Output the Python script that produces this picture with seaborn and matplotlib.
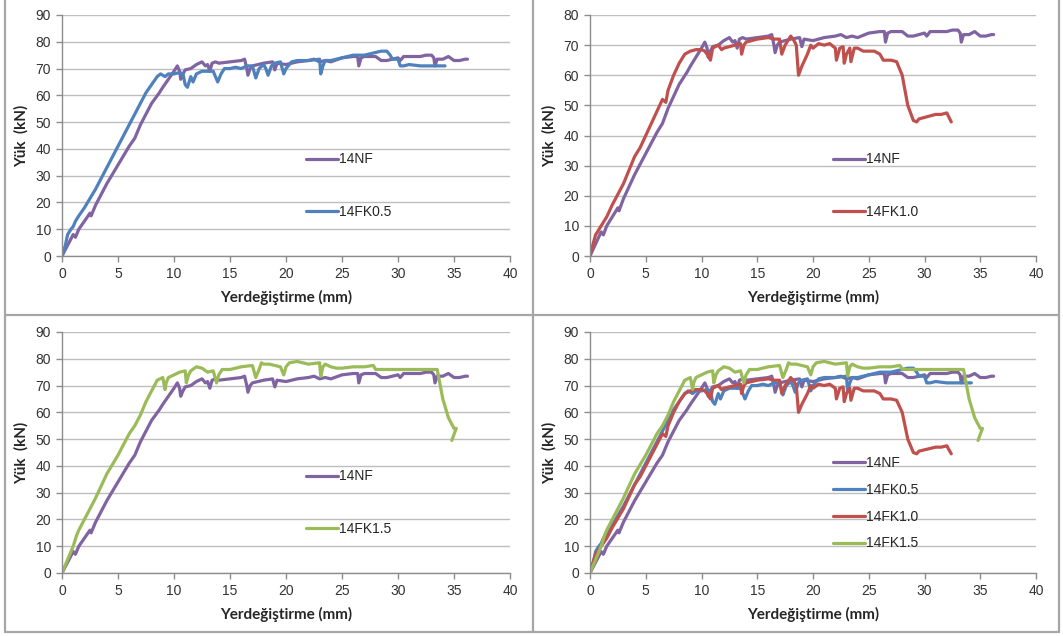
import numpy as np
import pandas as pd
import seaborn as sns
import matplotlib.pyplot as plt
from matplotlib.lines import Line2D

# load-displacement curves (x: mm, y: kN)
nf_x = [0, 0.5, 1.0, 1.2, 1.5, 2.5, 2.6, 3.0, 4.0, 5.0, 6.0, 6.5, 7.0, 8.0, 8.7, 9.0, 9.5, 10.0,
        10.3, 10.5, 10.6, 10.8, 11.0, 11.5, 12.0, 12.5, 12.8, 13.0, 13.2, 13.4, 13.7, 14.0, 15.0,
        16.0, 16.3, 16.5, 16.6, 16.8, 17.0, 18.0, 18.8, 19.0, 19.2, 20.0, 21.0, 22.0, 22.5, 23.0,
        23.5, 24.0, 25.0, 26.0, 26.4, 26.5, 26.7, 27.0, 28.0, 28.5, 29.0, 30.0, 30.2, 30.5, 31.0,
        32.0, 32.5, 33.0, 33.2, 33.3, 33.5, 34.0, 34.5, 35.0, 35.5, 36.0, 36.2]
nf_y = [0, 4, 8, 7, 10, 16, 15, 19, 27, 34, 41, 44, 49, 57, 61, 63, 66, 69,
        71, 69, 66, 68, 69.5, 70, 71.5, 72.5, 71, 71.5, 69, 72, 72.5, 72, 72.5,
        73, 73.5, 70, 67.5, 70, 71, 72, 72.5, 69.5, 72, 71.5, 72.5, 73, 73.5, 72.5,
        73, 72.5, 74, 74.5, 74.5, 71, 74, 74.5, 74.5, 73, 73, 74, 73, 74.5, 74.5,
        74.5, 75, 75, 74, 71, 73.5, 73.5, 74.5, 73, 73, 73.5, 73.5]

fk05_x = [0, 0.3, 0.5, 0.8, 1.0, 1.2, 1.5, 2.0, 3.0, 4.0, 5.0, 6.0, 6.5, 7.0, 7.5, 8.0, 8.5, 8.8,
          9.0, 9.2, 9.5, 10.0, 10.5, 10.8, 11.0, 11.2, 11.5, 11.7, 12.0, 12.5, 13.0, 13.5, 13.8,
          13.9, 14.2, 14.5, 15.0, 15.5, 16.0, 16.5, 17.0, 17.2, 17.3, 17.6, 18.0, 18.2, 18.4, 18.7,
          19.0, 19.5, 19.8, 20.0, 20.5, 21.0, 22.0, 23.0, 23.1, 23.3, 23.5, 24.0, 25.0, 26.0, 27.0,
          27.5, 28.0, 28.5, 29.0, 29.3, 29.5, 30.0, 30.2, 30.5, 31.0, 32.0, 33.0, 34.0, 34.2]
fk05_y = [0, 4, 8, 10, 11, 13, 15, 18, 25, 33, 41, 49, 53, 57, 61, 64, 67, 68,
          67.5, 67, 68, 68, 68.5, 68, 64, 63, 67, 65, 68, 69, 69, 69, 66,
          65, 68, 70, 70, 70.5, 70, 71, 71, 68, 66.5, 70, 71.5, 70, 67.5, 71,
          72, 72.5, 68, 70, 72.5, 73, 73, 73.5, 68, 71, 73, 73, 74, 75, 75,
          75.5, 76, 76.5, 76.5, 75, 73.5, 73.5, 71, 71, 71.5, 71, 71, 71, 71]

fk10_x = [0, 0.2, 0.5, 1.0, 1.5, 2.0, 3.0, 4.0, 4.5, 5.0, 5.5, 6.0, 6.5, 6.8, 7.0, 7.5, 8.0, 8.5,
          9.0, 9.5, 10.0, 10.3, 10.5, 10.8, 11.0, 11.5, 11.8, 12.0, 12.5, 13.0, 13.5, 13.6, 13.8,
          14.0, 15.0, 16.0, 16.5, 17.0, 17.2, 17.5, 18.0, 18.3, 18.5, 18.7, 19.0, 19.5, 19.8, 20.0,
          20.5, 21.0, 21.5, 22.0, 22.1, 22.4, 22.7, 22.8, 23.0, 23.3, 23.4, 23.7, 24.0, 24.5, 25.0,
          25.5, 26.0, 26.3, 27.0, 27.5, 28.0, 28.5, 29.0, 29.3, 29.5, 30.0, 31.0, 31.5, 32.0, 32.2,
          32.4]
fk10_y = [0, 3, 7, 10, 13, 17, 24, 33, 36, 40, 44, 48, 52, 51, 55, 60, 64, 67,
          68, 68.5, 68.5, 68, 67, 65, 69, 70, 68.5, 69, 69.5, 70, 70.5, 67, 70,
          71, 72, 72.5, 72, 72, 67, 70, 73, 71.5, 70, 60, 63, 67, 70, 69,
          70.5, 70, 70.5, 69, 65, 69, 69.5, 64, 67, 69, 64.5, 69, 69, 68, 68,
          68, 67, 65, 65, 64.5, 60, 50, 45, 44.5, 45.5, 46, 47, 47, 47.5, 46,
          44.5]

fk15_x = [0, 0.5, 1.0, 1.3, 1.5, 2.0, 3.0, 4.0, 5.0, 6.0, 6.5, 7.0, 7.5, 8.0, 8.5, 9.0, 9.2, 9.3,
          9.5, 10.0, 10.5, 11.0, 11.1, 11.3, 11.5, 12.0, 12.5, 13.0, 13.5, 13.8, 14.0, 14.3, 15.0,
          16.0, 17.0, 17.3, 17.6, 17.8, 18.0, 18.5, 19.0, 19.5, 19.8, 20.0, 20.3, 21.0, 21.5, 22.0,
          23.0, 23.1, 23.3, 23.5, 24.0, 24.5, 25.0, 26.0, 27.0, 27.8, 28.0, 29.0, 30.0, 31.0, 32.0,
          33.0, 33.5, 34.0, 34.5, 35.0, 35.2, 34.8]
fk15_y = [0, 5, 10, 14, 16, 20, 28, 37, 44, 52, 55, 59, 64, 68, 72, 73, 68.5, 71,
          73, 74, 75, 75.5, 71, 74, 75.5, 77, 76.5, 75, 75.5, 71, 74, 76, 76,
          77, 77.5, 73, 76, 78.5, 78, 78, 77.5, 77, 74, 77, 78.5, 79, 78.5, 78,
          78.5, 73.5, 77, 78, 77, 76.5, 76.5, 77, 77, 77.5, 76, 76, 76, 76, 76,
          76, 76, 65, 58, 54, 54, 49.5]

series = {
    "14NF": (nf_x, nf_y),
    "14FK0.5": (fk05_x, fk05_y),
    "14FK1.0": (fk10_x, fk10_y),
    "14FK1.5": (fk15_x, fk15_y),
}
colors = {"14NF": "#8064A2", "14FK0.5": "#4F81BD", "14FK1.0": "#C0504D", "14FK1.5": "#9BBB59"}

sns.set_style("white")
plt.rcParams["font.family"] = ["Liberation Sans", "DejaVu Sans"]

W, H = 1063, 636
fig = plt.figure(figsize=(W / 100, H / 100), dpi=100)


def add_ax(left, right, top, bottom):
    return fig.add_axes([left / W, 1 - bottom / H, (right - left) / W, (bottom - top) / H])


# (pixel box, series, ymax, legend anchor (x, y axes fraction), spacing)
panels = [
    ((62, 510, 15, 256), ["14NF", "14FK0.5"], 90, (0.545, 0.43), 2.8),
    ((590, 1036, 15, 256), ["14NF", "14FK1.0"], 80, (0.545, 0.43), 2.8),
    ((62, 510, 332, 573), ["14NF", "14FK1.5"], 90, (0.545, 0.43), 2.8),
    ((590, 1036, 332, 573), ["14NF", "14FK0.5", "14FK1.0", "14FK1.5"], 90, (0.545, 0.485), 0.92),
]

for box, names, ymax, anchor, spacing in panels:
    ax = add_ax(*box)
    for name in names:
        x, y = series[name]
        df = pd.DataFrame({"x": x, "y": y})
        sns.lineplot(data=df, x="x", y="y", sort=False, estimator=None,
                     color=colors[name], lw=2.3, ax=ax, label=name)
    ax.set_xlim(0, 40)
    ax.set_ylim(0, ymax)
    ax.set_xticks(np.arange(0, 41, 5))
    ax.set_yticks(np.arange(0, ymax + 1, 10))
    ax.grid(axis="y", color="#BEBEBE", lw=1.0)
    ax.set_axisbelow(True)
    for s in ["top", "right"]:
        ax.spines[s].set_visible(False)
    for s in ["left", "bottom"]:
        ax.spines[s].set_color("#8C8C8C")
        ax.spines[s].set_linewidth(1.0)
    ax.tick_params(axis="both", direction="out", length=4, width=1, color="#8C8C8C",
                   labelsize=10, labelcolor="#333333", pad=4, left=True, bottom=True)
    ax.set_xlabel("Yerdeğiştirme (mm)", fontsize=11, fontweight="bold", family="Lato", labelpad=6)
    ax.set_ylabel("Yük  (kN)", fontsize=11, fontweight="bold", family="Lato", labelpad=5)
    ax.legend(loc="upper left", bbox_to_anchor=anchor, frameon=False, fontsize=10,
              handlelength=2.3, handletextpad=0.1, labelspacing=spacing, borderpad=0,
              borderaxespad=0)

# panel frames
frame_color = "#A6A6A6"
for xs, ys in [([5, 5], [0, 632]), ([5, 1059], [632, 632]), ([1059, 1059], [0, 632]),
               ([533, 533], [0, 632]), ([5, 1059], [315, 315])]:
    fig.add_artist(Line2D([v / W for v in xs], [1 - v / H for v in ys], color=frame_color, lw=1.6))

fig.savefig("out.png", dpi=100)
